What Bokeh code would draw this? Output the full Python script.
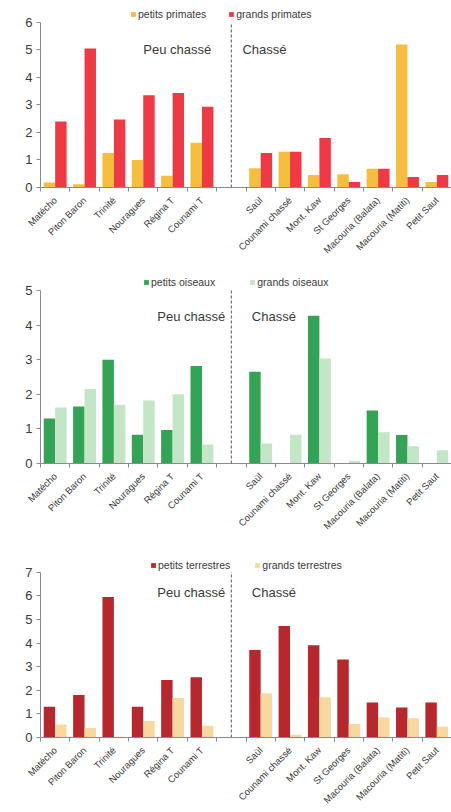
from math import pi
from bokeh.plotting import figure
from bokeh.models import (Range1d, LinearAxis, FixedTicker, SingleIntervalTicker, Legend,
                          LegendItem, Label, ColumnDataSource)
from bokeh.transform import dodge
from bokeh.layouts import column
from bokeh.embed import file_html
from bokeh.resources import INLINE

NAN = float("nan")

categories = ["Matécho", "Piton Baron", "Trinité", "Nouragues", "Régina T", "Counami T", "",
              "Saül", "Counami chassé", "Mont. Kaw", "St Georges", "Macouria (Balata)",
              "Macouria (Matiti)", "Petit Saut"]
gap_label = ""

# Chart 1 : primates
petits_primates = [0.18, 0.12, 1.25, 1.0, 0.43, 1.63, NAN, 0.7, 1.3, 0.45, 0.48, 0.68, 5.2, 0.2]
grands_primates = [2.4, 5.05, 2.47, 3.35, 3.43, 2.93, NAN, 1.25, 1.3, 1.8, 0.2, 0.68, 0.38, 0.45]

# Chart 2 : oiseaux
petits_oiseaux = [1.3, 1.65, 3.0, 0.83, 0.97, 2.82, NAN, 2.65, 0.0, 4.27, 0.0, 1.53, 0.82, 0.0]
grands_oiseaux = [1.62, 2.15, 1.7, 1.82, 2.0, 0.55, NAN, 0.58, 0.83, 3.03, 0.07, 0.9, 0.5, 0.38]

# Chart 3 : terrestres
petits_terrestres = [1.3, 1.8, 5.95, 1.3, 2.43, 2.55, NAN, 3.7, 4.72, 3.9, 3.3, 1.48, 1.27, 1.48]
grands_terrestres = [0.55, 0.4, 0.03, 0.7, 1.67, 0.5, NAN, 1.87, 0.12, 1.7, 0.57, 0.85, 0.82, 0.45]

FONT = "Liberation Sans"
AXIS_COL = "#8a8a8a"
TEXT_COL = "#3a3a3a"

n = len(categories)
centers = [i + 0.5 for i in range(n)]          # slot centres on the numeric x scale
boundaries = list(range(n + 1))                 # slot boundaries (Excel-like ticks)
label_ticks = [c for c, name in zip(centers, categories) if name]
label_names = [name for name in categories if name]
gap_x = centers[categories.index(gap_label)]


def make_chart(name_small, name_large, small, large, c_small, c_large, ymax, yroom,
               height, top, bottom, left, legend_xy, legend_spacing,
               peu_xy, chasse_xy):
    p = figure(width=451, height=height,
               x_range=Range1d(0, n), y_range=Range1d(0, ymax + yroom),
               output_backend="svg", toolbar_location=None,
               x_axis_location=None, y_axis_location=None,
               min_border_left=left, min_border_right=0,
               min_border_top=top, min_border_bottom=bottom)
    p.outline_line_color = None
    p.xgrid.visible = False
    p.ygrid.visible = False
    p.background_fill_color = "white"
    p.border_fill_color = "white"

    src = ColumnDataSource(dict(x=centers, cat=categories, small=small, large=large))
    r1 = p.vbar(x=dodge("x", -0.195), top="small", width=0.39,
                source=src, fill_color=c_small, line_color=None)
    r2 = p.vbar(x=dodge("x", 0.195), top="large", width=0.39,
                source=src, fill_color=c_large, line_color=None)

    # dashed separator between "Peu chassé" and "Chassé" sites
    p.segment(x0=[gap_x], x1=[gap_x], y0=[0], y1=[ymax],
              line_color="#555555", line_width=1, line_dash="3 2")

    yaxis = LinearAxis(ticker=SingleIntervalTicker(interval=1), bounds=(0, ymax),
                       major_tick_in=0, major_tick_out=4, minor_tick_line_color=None,
                       axis_line_color=AXIS_COL, major_tick_line_color=AXIS_COL,
                       major_label_text_font_size="13px", major_label_text_font=FONT,
                       major_label_text_color=TEXT_COL, major_label_standoff=4)
    p.add_layout(yaxis, "left")

    xaxis = LinearAxis(ticker=FixedTicker(ticks=label_ticks, minor_ticks=boundaries),
                       major_label_overrides=dict(zip(label_ticks, label_names)),
                       major_tick_line_color=None,
                       minor_tick_in=0, minor_tick_out=4, minor_tick_line_color=AXIS_COL,
                       axis_line_color=AXIS_COL,
                       major_label_orientation=pi / 4, major_label_standoff=5,
                       major_label_text_font_size="9.5px", major_label_text_font=FONT,
                       major_label_text_color=TEXT_COL)
    p.add_layout(xaxis, "below")

    legend = Legend(items=[LegendItem(label=name_small, renderers=[r1]),
                           LegendItem(label=name_large, renderers=[r2])],
                    orientation="horizontal", location=legend_xy,
                    border_line_color=None, background_fill_alpha=0,
                    padding=0, margin=0, spacing=legend_spacing,
                    glyph_width=6, glyph_height=6, label_standoff=2, label_height=10,
                    label_text_font_size="10.5px", label_text_font=FONT,
                    label_text_color=TEXT_COL, label_text_baseline="middle")
    p.add_layout(legend, "center")

    for txt, (x, y) in (("Peu chassé", peu_xy), ("Chassé", chasse_xy)):
        p.add_layout(Label(x=x, y=y, text=txt, text_font=FONT, text_font_size="13px",
                           text_color=TEXT_COL, text_align="left", text_baseline="middle"))
    return p


p1 = make_chart("petits primates", "grands primates", petits_primates, grands_primates,
                "#F6BE3E", "#EE3A44", 6, 0.65, 270, 4, 83, 40, (90, 167), 22,
                (3.5, 5.0), (6.88, 5.0))
p2 = make_chart("petits oiseaux", "grands oiseaux", petits_oiseaux, grands_oiseaux,
                "#34A355", "#C3E6C6", 5, 0.46, 270, 4, 77, 35, (103, 175), 34,
                (3.98, 4.25), (7.2, 4.25))
p3 = make_chart("petits terrestres", "grands terrestres", petits_terrestres, grands_terrestres,
                "#B7282E", "#F9D8A0", 7, 1.17, 272, 4, 65, 33, (110, 166), 24,
                (3.98, 6.12), (7.2, 6.12))

layout = column(p1, p2, p3, spacing=0)
open("out.html", "w").write(file_html(layout, INLINE))
